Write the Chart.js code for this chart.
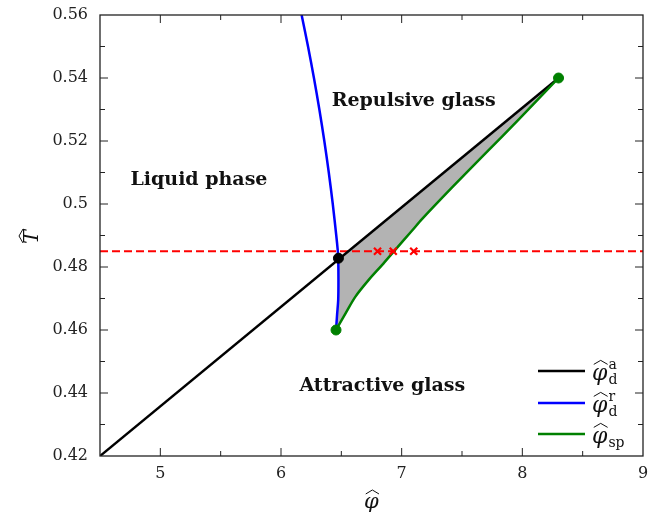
<!DOCTYPE html>
<html>
<head>
<meta charset="UTF-8" />
<title>Diagramme de phase</title>
<script src="https://cdn.jsdelivr.net/npm/chart.js"></script>
<style>
  html, body { margin: 0; padding: 0; background: #fff; }
  #wrap { width: 660px; height: 518px; position: relative; }
</style>
</head>
<body>
<div id="wrap"><canvas id="myChart"></canvas></div>
<script>
// axes
const xMin = 4.5, xMax = 9;
const yMin = 0.42, yMax = 0.56;
const xTicks = [5, 6, 7, 8, 9];
const yTicks = [0.42, 0.44, 0.46, 0.48, 0.5, 0.52, 0.54, 0.56];

// attractive glass line
const attractX = [4.5, 8.3];
const attractY = [0.42, 0.54];

// repulsive glass line
const repulX = [6.171, 6.224, 6.273, 6.318, 6.359, 6.396, 6.429, 6.458, 6.47, 6.474, 6.476, 6.474, 6.465, 6.456];
const repulY = [0.56, 0.55, 0.54, 0.53, 0.52, 0.51, 0.50, 0.49, 0.4854, 0.483, 0.476, 0.4695, 0.465, 0.46];

// spinodal
const spX = [6.456, 6.535, 6.617, 6.727, 6.837, 6.934, 7.085, 7.168, 7.416, 7.692, 7.967, 8.3];
const spY = [0.46, 0.4653, 0.4706, 0.4759, 0.4806, 0.4849, 0.4915, 0.4952, 0.5052, 0.516, 0.5267, 0.54];

// markers
const endX = [6.456, 8.3];
const endY = [0.46, 0.54];
const meetX = [6.476];
const meetY = [0.4828];
const quenchT = 0.485;
const crossX = [6.80, 6.93, 7.10];

const regionNames = ["Repulsive glass", "Liquid phase", "Attractive glass"];
const legendSubs = [["d", "a"], ["d", "r"], ["sp", ""]];
const legendColors = ["#000000", "#0000ff", "#008000"];

const pts = (xs, ys) => xs.map((x, i) => ({ x: x, y: ys[i] }));

// grey region: meeting point -> end of black line -> spinodal back -> blue up
const shade = [{ x: meetX[0], y: meetY[0] }, { x: attractX[1], y: attractY[1] }]
  .concat(pts(spX, spY).reverse())
  .concat(pts(repulX, repulY).slice(9).reverse());

const serif = '"DejaVu Serif", "Liberation Serif", serif';

function hat(ctx, cx, top, w, h) {
  ctx.beginPath();
  ctx.moveTo(cx - w / 2, top + h);
  ctx.lineTo(cx, top);
  ctx.lineTo(cx + w / 2, top + h);
  ctx.lineWidth = 1;
  ctx.stroke();
}

function phiHat(ctx, x, y, size) {
  ctx.font = "italic " + size + "px " + serif;
  ctx.textAlign = "left";
  ctx.textBaseline = "middle";
  ctx.fillText("φ", x, y);
  const w = ctx.measureText("φ").width;
  hat(ctx, x + w / 2 + 1, y - size * 0.62, w * 0.9, 4);
  return w;
}

const decor = {
  id: "decor",
  afterDatasetsDraw(chart) {
    const ctx = chart.ctx;
    const a = chart.chartArea;
    const xs = chart.scales.x, ys = chart.scales.y;
    ctx.save();
    ctx.strokeStyle = "#222";
    ctx.fillStyle = "#222";

    // frame
    ctx.lineWidth = 1.3;
    ctx.strokeRect(a.left, a.top, a.right - a.left, a.bottom - a.top);

    // inward ticks, all four sides
    ctx.lineWidth = 1;
    ctx.beginPath();
    for (let v = 5; v <= 8.51; v += 0.5) {
      const px = xs.getPixelForValue(v);
      const len = Number.isInteger(v) ? 8 : 5;
      ctx.moveTo(px, a.bottom); ctx.lineTo(px, a.bottom - len);
      ctx.moveTo(px, a.top); ctx.lineTo(px, a.top + len);
    }
    for (let k = 43; k <= 55; k++) {
      const py = ys.getPixelForValue(k / 100);
      const len = k % 2 === 0 ? 8 : 5;
      ctx.moveTo(a.left, py); ctx.lineTo(a.left + len, py);
      ctx.moveTo(a.right, py); ctx.lineTo(a.right - len, py);
    }
    ctx.stroke();

    // region names
    ctx.fillStyle = "#111";
    ctx.font = "bold 19px " + serif;
    ctx.textAlign = "center";
    ctx.textBaseline = "middle";
    ctx.fillText(regionNames[0], xs.getPixelForValue(7.10), ys.getPixelForValue(0.5327));
    ctx.fillText(regionNames[1], xs.getPixelForValue(5.32), ys.getPixelForValue(0.5075));
    ctx.fillText(regionNames[2], xs.getPixelForValue(6.84), ys.getPixelForValue(0.4422));

    // legend
    const ly = [371, 403, 434];
    legendColors.forEach((c, i) => {
      ctx.strokeStyle = c;
      ctx.lineWidth = 2.5;
      ctx.beginPath();
      ctx.moveTo(538, ly[i]);
      ctx.lineTo(585, ly[i]);
      ctx.stroke();
      ctx.fillStyle = "#111";
      ctx.strokeStyle = "#111";
      const w = phiHat(ctx, 592, ly[i] + 3, 22);
      ctx.font = "14px " + serif;
      ctx.textAlign = "left";
      ctx.textBaseline = "middle";
      if (legendSubs[i][1]) ctx.fillText(legendSubs[i][1], 593 + w, ly[i] - 6);
      ctx.fillText(legendSubs[i][0], 593 + w, ly[i] + 9);
    });

    // axis titles
    ctx.fillStyle = "#111";
    ctx.strokeStyle = "#111";
    phiHat(ctx, 364, 503, 21);

    ctx.translate(31, 237);
    ctx.rotate(-Math.PI / 2);
    ctx.font = "italic 21px " + serif;
    ctx.textAlign = "center";
    ctx.textBaseline = "middle";
    ctx.fillText("T", 0, 2);
    hat(ctx, 1, -12, 14, 4);
    ctx.restore();
  }
};

const ctx = document.getElementById("myChart").getContext("2d");
new Chart(ctx, {
  type: "scatter",
  data: {
    datasets: [
      {
        data: shade,
        showLine: true,
        fill: "shape",
        backgroundColor: "#b3b3b3",
        borderWidth: 0,
        pointRadius: 0,
        tension: 0.3,
        order: 9
      },
      {
        data: [{ x: xMin, y: quenchT }, { x: xMax, y: quenchT }],
        showLine: true,
        borderColor: "#ff0000",
        borderWidth: 2,
        borderDash: [8, 4],
        pointRadius: 0,
        order: 8
      },
      {
        data: pts(attractX, attractY),
        showLine: true,
        borderColor: "#000000",
        borderWidth: 2.5,
        pointRadius: 0,
        order: 7
      },
      {
        data: pts(repulX, repulY),
        showLine: true,
        borderColor: "#0000ff",
        borderWidth: 2.5,
        pointRadius: 0,
        tension: 0.3,
        order: 6
      },
      {
        data: pts(spX, spY),
        showLine: true,
        borderColor: "#008000",
        borderWidth: 2.5,
        pointRadius: 0,
        tension: 0.3,
        order: 5
      },
      {
        data: pts(endX, endY),
        pointRadius: 5,
        backgroundColor: "#008000",
        borderColor: "#008000",
        order: 2
      },
      {
        data: pts(meetX, meetY),
        pointRadius: 5,
        backgroundColor: "#000000",
        borderColor: "#000000",
        order: 2
      },
      {
        data: crossX.map(x => ({ x: x, y: quenchT })),
        pointStyle: "crossRot",
        pointRadius: 5,
        borderColor: "#ff0000",
        borderWidth: 2.2,
        order: 1
      }
    ]
  },
  options: {
    responsive: true,
    maintainAspectRatio: false,
    animation: false,
    layout: { padding: { left: 0, right: 17, top: 15, bottom: 0 } },
    plugins: {
      legend: { display: false },
      tooltip: { enabled: false }
    },
    scales: {
      x: {
        type: "linear",
        min: xMin,
        max: xMax,
        grid: { display: false, drawTicks: true, tickLength: 8 },
        border: { display: false },
        afterBuildTicks: s => { s.ticks = xTicks.map(v => ({ value: v })); },
        afterFit: s => { s.height = 62; },
        ticks: {
          padding: 0,
          color: "#222",
          font: { family: serif, size: 16 }
        }
      },
      y: {
        type: "linear",
        min: yMin,
        max: yMax,
        grid: { display: false, drawTicks: true, tickLength: 12 },
        border: { display: false },
        afterBuildTicks: s => { s.ticks = yTicks.map(v => ({ value: v })); },
        afterFit: s => { s.width = 100; },
        ticks: {
          padding: 0,
          color: "#222",
          font: { family: serif, size: 16 },
          callback: v => String(Number(v.toFixed(2)))
        }
      }
    }
  },
  plugins: [decor]
});
</script>
</body>
</html>
